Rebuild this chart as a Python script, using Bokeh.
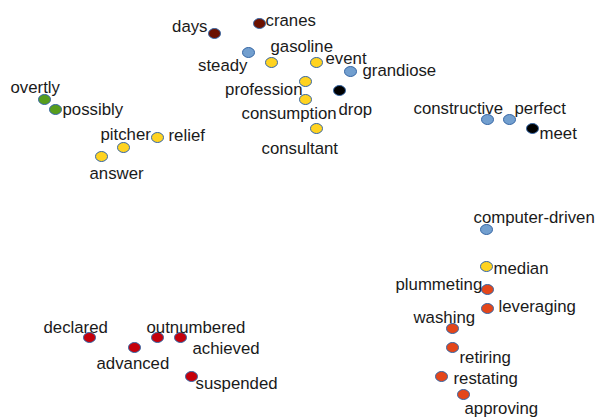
from bokeh.plotting import figure
from bokeh.models import ColumnDataSource
from bokeh.embed import file_html
from bokeh.resources import INLINE
from bokeh.core.properties import value

# Word embedding projection: words, 2-D coordinates and cluster
words = ["days", "cranes", "steady", "gasoline", "event", "grandiose", "profession",
         "consumption", "drop", "consultant", "overtly", "possibly", "pitcher", "relief",
         "answer", "constructive", "perfect", "meet", "computer-driven", "median",
         "plummeting", "leveraging", "washing", "retiring", "restating", "approving",
         "declared", "advanced", "outnumbered", "achieved", "suspended"]
x_vals = [214, 259, 248, 271, 316, 350, 305, 305, 339, 316, 44, 55, 123, 157, 101,
          487, 509, 532, 486, 486, 487, 487, 452, 452, 441, 463, 89, 134, 157, 180, 191]
y_vals = [384, 394, 365, 355, 355, 346, 336, 318, 327, 289, 318, 308, 270, 280, 261,
          298, 298, 289, 188, 151, 128, 109, 89, 70, 41, 23, 80, 70, 80, 80, 41]
clusters = ["darkred", "darkred", "blue", "yellow", "yellow", "blue", "yellow",
            "yellow", "black", "yellow", "green", "green", "yellow", "yellow",
            "yellow", "blue", "blue", "black", "blue", "yellow",
            "orange", "orange", "orange", "orange", "orange", "orange",
            "red", "red", "red", "red", "red"]

palette = {"darkred": "#6B1100", "blue": "#729fcf", "yellow": "#ffd320",
           "black": "#000000", "green": "#579d1c", "orange": "#e4461a", "red": "#c5000b"}

# label placement (screen px relative to marker) - layout only
label_dx = [-7, 6, -1, -1, 9, 12, -3, -64, -1, -55, -34, 7, -23, 11, -12,
            -74, 5, 7, -13, 7, -92, 11, -39, 7, 12, 1, -46, -38, -11, 12, 4]
label_dy = [-7, -3, 13, -16, -4, -1, 8, 14, 19, 20, -12, 0, -13, -2, 17,
            -11, -11, 5, -12, 2, -5, -2, -11, 10, 2, 14, -10, 16, -10, 11, 7]
label_align = ["right", "left", "right", "left", "left", "left", "right", "left",
               "left", "left", "left", "left", "left", "left", "left", "left", "left",
               "left", "left", "left", "left", "left", "left", "left", "left", "left",
               "left", "left", "left", "left", "left"]

src = ColumnDataSource(dict(
    x=x_vals, y=y_vals, word=words,
    color=[palette[c] for c in clusters],
    dx=label_dx, dy=label_dy, align=label_align,
))

W, H = 595, 417
p = figure(width=W, height=H, x_range=(0, W), y_range=(0, H),
           output_backend="svg", toolbar_location=None, min_border=0)
p.axis.visible = False
p.grid.visible = False
p.outline_line_color = None
p.background_fill_color = "white"
p.border_fill_color = "white"

p.ellipse(x="x", y="y", width=12, height=10, width_units="screen", height_units="screen",
          fill_color="color", line_color="#3465a4", line_width=1, source=src)
p.text(x="x", y="y", text="word", x_offset="dx", y_offset="dy", text_align="align",
       text_baseline="middle", text_font=value("Liberation Sans"), text_font_size="16.8px",
       text_color="#1a1a1a", source=src)

open("out.html", "w").write(file_html(p, INLINE))
